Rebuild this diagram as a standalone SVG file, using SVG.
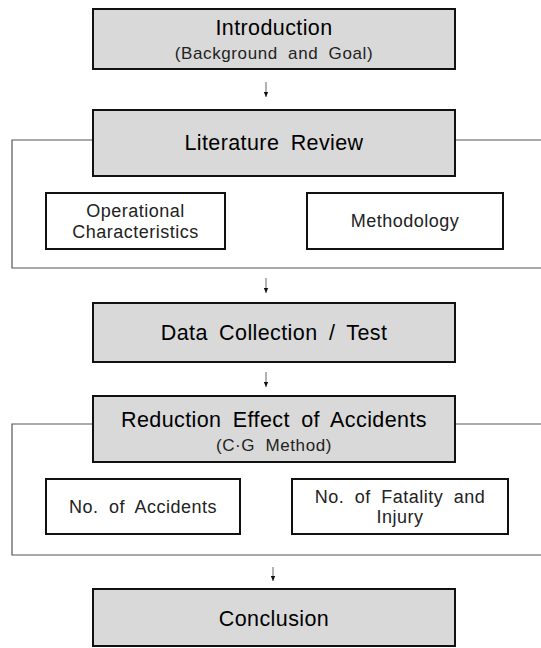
<svg xmlns="http://www.w3.org/2000/svg" width="541" height="648" viewBox="0 0 541 648">
<style>
.main{fill:#d9d9d9;stroke:#111;stroke-width:2}
.sub{fill:#fff;stroke:#111;stroke-width:2}
.frame{fill:none;stroke:#555;stroke-width:1.2}
.conn{stroke:#8a8a8a;stroke-width:1.3;fill:none}
.t{font-family:"Liberation Sans",Arial,sans-serif;font-size:21.5px;fill:#000;text-anchor:middle;letter-spacing:0.4px;word-spacing:5px}
.st{font-family:"Liberation Sans",Arial,sans-serif;font-size:17px;fill:#222;text-anchor:middle;letter-spacing:0.6px;word-spacing:5px}
.s{font-family:"Liberation Sans",Arial,sans-serif;font-size:18px;fill:#222;text-anchor:middle;letter-spacing:0.5px;word-spacing:5px}
</style>
<defs>
<marker id="ah" markerWidth="5" markerHeight="5" refX="5" refY="2.5" orient="auto" markerUnits="userSpaceOnUse" viewBox="0 0 5 5">
<path d="M0,0.3 L5,2.5 L0,4.7 Z" fill="#111"/>
</marker>
</defs>
<g id="frames">
<path class="frame" d="M93,140 H12 V268 H545 M455,140 H545"/>
<path class="frame" d="M93,424 H12 V555 H545 M455,424 H545"/>
</g>
<g id="connectors">
<line class="conn" x1="266" y1="82" x2="266" y2="97" marker-end="url(#ah)"/>
<line class="conn" x1="266" y1="278" x2="266" y2="293" marker-end="url(#ah)"/>
<line class="conn" x1="266" y1="372" x2="266" y2="387" marker-end="url(#ah)"/>
<line class="conn" x1="273" y1="567" x2="273" y2="581" marker-end="url(#ah)"/>
</g>
<g id="intro">
<rect class="main" x="93" y="9" width="362" height="60"/>
<text class="t" x="274" y="35">Introduction</text>
<text class="st" x="274" y="59">(Background and Goal)</text>
</g>
<g id="literature">
<rect class="main" x="93" y="110" width="362" height="66"/>
<text class="t" x="274" y="150">Literature Review</text>
</g>
<g id="operational">
<rect class="sub" x="46" y="193" width="179" height="56"/>
<text class="s" x="135.5" y="216.5">Operational</text>
<text class="s" x="135.5" y="237.5">Characteristics</text>
</g>
<g id="methodology">
<rect class="sub" x="307" y="193" width="196" height="56"/>
<text class="s" x="405" y="227">Methodology</text>
</g>
<g id="data">
<rect class="main" x="93" y="303" width="362" height="59"/>
<text class="t" x="274" y="340">Data Collection / Test</text>
</g>
<g id="reduction">
<rect class="main" x="93" y="396" width="362" height="66"/>
<text class="t" x="274" y="427">Reduction Effect of Accidents</text>
<text class="st" x="274" y="451">(C·G Method)</text>
</g>
<g id="accidents">
<rect class="sub" x="46" y="479" width="194" height="55"/>
<text class="s" x="143" y="513">No. of Accidents</text>
</g>
<g id="fatality">
<rect class="sub" x="292" y="479" width="216" height="55"/>
<text class="s" x="400" y="502.5">No. of Fatality and</text>
<text class="s" x="400" y="523">Injury</text>
</g>
<g id="conclusion">
<rect class="main" x="93" y="589" width="362" height="57"/>
<text class="t" x="274" y="626">Conclusion</text>
</g>
</svg>
